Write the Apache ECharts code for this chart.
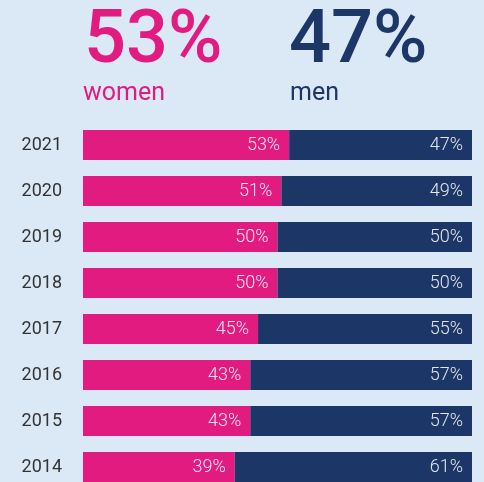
<!DOCTYPE html>
<html>
<head>
<meta charset="utf-8">
<script src="https://cdn.jsdelivr.net/npm/echarts@6/dist/echarts.min.js"></script>
<style>
  html, body { margin: 0; padding: 0; background: #dbe8f5; overflow: hidden; }
  /* taller than the window: the last row is cut off by the bottom edge */
  #chart { width: 484px; height: 490px; }
</style>
</head>
<body>
<div id="chart"></div>
<script>
// years, newest first
const years = ['2021', '2020', '2019', '2018', '2017', '2016', '2015', '2014']
const women = [53, 51, 50, 50, 45, 43, 43, 39]
const men = [47, 49, 50, 50, 55, 57, 57, 61]

const pink = '#e21b80'
const navy = '#1c3667'

const myChart = echarts.init(document.getElementById('chart'))

const barLabel = {
  show: true,
  position: 'insideRight',
  distance: 9,
  formatter: '{c}%',
  color: 'rgba(255,255,255,0.88)',
  fontFamily: 'Roboto',
  fontWeight: 300,
  fontSize: 18
}

const option = {
  backgroundColor: '#dbe8f5',
  animation: false,
  grid: {
    left: 83,
    right: 12,
    top: 122,
    bottom: 0
  },
  xAxis: {
    type: 'value',
    min: 0,
    max: 100,
    show: false
  },
  yAxis: {
    type: 'category',
    data: years,
    inverse: true,
    axisLine: { show: false },
    axisTick: { show: false },
    axisLabel: {
      margin: 21,
      color: '#333',
      fontFamily: 'Roboto',
      fontSize: 18
    }
  },
  graphic: [
    {
      type: 'text', left: 84, top: 6,
      style: { text: women[0] + '%', fill: pink, font: '500 74px Roboto' }
    },
    {
      type: 'text', left: 83, top: 81,
      style: { text: 'women', fill: pink, font: '400 25px Roboto' }
    },
    {
      type: 'text', left: 289, top: 6,
      style: { text: men[0] + '%', fill: navy, font: '500 74px Roboto' }
    },
    {
      type: 'text', left: 290, top: 81,
      style: { text: 'men', fill: navy, font: '400 25px Roboto' }
    }
  ],
  series: [
    {
      name: 'women',
      type: 'bar',
      stack: 'all',
      barWidth: 30,
      data: women,
      itemStyle: { color: pink },
      label: barLabel
    },
    {
      name: 'men',
      type: 'bar',
      stack: 'all',
      barWidth: 30,
      data: men,
      itemStyle: { color: navy },
      label: barLabel
    }
  ]
}
myChart.setOption(option)
</script>
</body>
</html>
